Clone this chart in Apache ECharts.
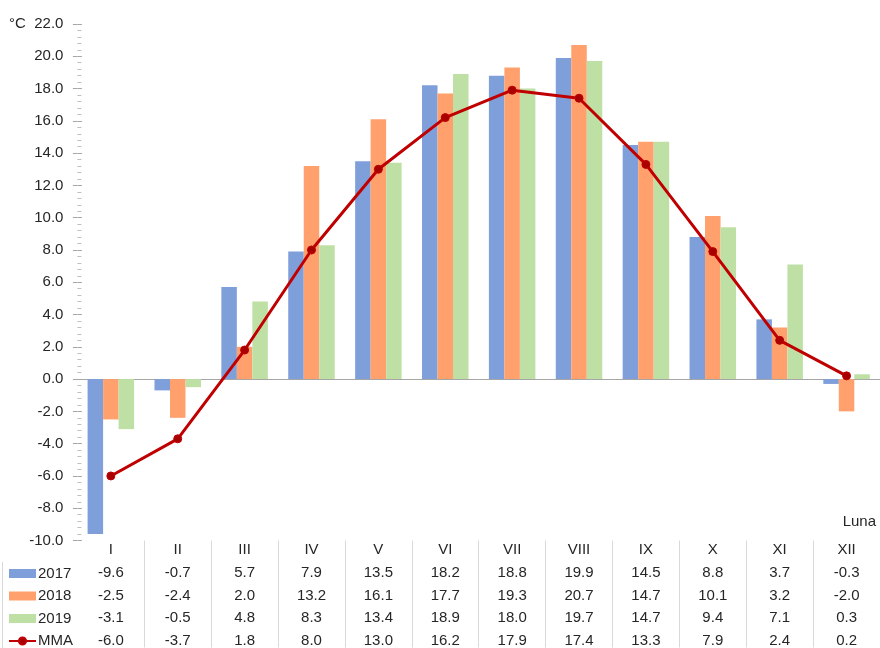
<!DOCTYPE html>
<html>
<head>
<meta charset="utf-8">
<script src="https://cdn.jsdelivr.net/npm/echarts@6/dist/echarts.min.js"></script>
<style>
  html, body { margin: 0; padding: 0; background: #fff; }
  #chart { width: 880px; height: 648px; }
</style>
</head>
<body>
<div id="chart"></div>
<script>
// Monthly mean air temperature, °C
const months = ['I', 'II', 'III', 'IV', 'V', 'VI', 'VII', 'VIII', 'IX', 'X', 'XI', 'XII'];
const t2017 = [-9.6, -0.7, 5.7, 7.9, 13.5, 18.2, 18.8, 19.9, 14.5, 8.8, 3.7, -0.3];
const t2018 = [-2.5, -2.4, 2.0, 13.2, 16.1, 17.7, 19.3, 20.7, 14.7, 10.1, 3.2, -2.0];
const t2019 = [-3.1, -0.5, 4.8, 8.3, 13.4, 18.9, 18.0, 19.7, 14.7, 9.4, 7.1, 0.3];
const mma   = [-6.0, -3.7, 1.8, 8.0, 13.0, 16.2, 17.9, 17.4, 13.3, 7.9, 2.4, 0.2];
const yMin = -10, yMax = 22, yStep = 2;

const FONT = '"Liberation Sans", Arial, sans-serif';
const TEXT = '#262626';
const fmt = v => Number(v).toFixed(1);

const chart = echarts.init(document.getElementById('chart'), null, { renderer: 'canvas' });

// one hidden-line category axis per table row, stacked under the plot
function rowAxis(values, margin) {
  return {
    type: 'category', data: months, position: 'bottom', gridIndex: 0,
    axisLine: { show: false, onZero: false },
    axisTick: { show: false },
    axisLabel: {
      interval: 0, margin: margin, color: TEXT, fontFamily: FONT, fontSize: 15,
      lineHeight: 15, formatter: (v, i) => fmt(values[i])
    }
  };
}

const option = {
  animation: false,
  backgroundColor: '#ffffff',
  grid: { left: 77.4, top: 24, width: 818.4, height: 516.8, containLabel: false },
  legend: {
    orient: 'vertical', left: 8, top: 566, padding: 0, height: 90,
    itemWidth: 27, itemHeight: 9, itemGap: 7.5,
    textStyle: { color: TEXT, fontFamily: FONT, fontSize: 15, lineHeight: 15, padding: [0, 0, 0, -3] },
    data: [
      { name: '2017', icon: 'rect' },
      { name: '2018', icon: 'rect' },
      { name: '2019', icon: 'rect' },
      { name: 'MMA' }
    ]
  },
  xAxis: [
    { // zero line
      type: 'category', data: months, gridIndex: 0, position: 'bottom',
      axisLine: { show: true, onZero: true, lineStyle: { color: '#A6A6A6', width: 1 } },
      axisTick: { show: false }, axisLabel: { show: false }
    },
    { // month names + column separators of the table
      type: 'category', data: months, gridIndex: 0, position: 'bottom',
      axisLine: { show: false, onZero: false },
      axisTick: { show: true, length: 107, interval: i => i > 0, lineStyle: { color: '#D9D9D9', width: 1 } },
      axisLabel: { interval: 0, margin: 2, color: TEXT, fontFamily: FONT, fontSize: 15, lineHeight: 15 }
    },
    rowAxis(t2017, 25),
    rowAxis(t2018, 47.5),
    rowAxis(t2019, 70),
    rowAxis(mma, 92.5)
  ],
  yAxis: [
    {
      type: 'value', min: yMin, max: yMax, interval: yStep, position: 'left',
      splitLine: { show: false },
      axisLine: { show: false },
      axisTick: { show: true, inside: false, length: 4.5, lineStyle: { color: '#A6A6A6' } },
      axisLabel: { margin: 14, color: TEXT, fontFamily: FONT, fontSize: 15, formatter: v => fmt(v) }
    },
    {
      type: 'value', min: yMin, max: yMax, interval: yStep, position: 'left',
      splitLine: { show: false },
      axisLine: { show: false },
      axisLabel: { show: false },
      axisTick: { show: true, inside: true, length: 4.5, lineStyle: { color: '#A6A6A6' } },
      minorTick: { show: true, splitNumber: 5, length: 4, lineStyle: { color: '#BFBFBF' } }
    }
  ],
  series: [
    { name: '2017', type: 'bar', data: t2017, barWidth: 15.5, barGap: '0%', itemStyle: { color: '#7F9FDB' } },
    { name: '2018', type: 'bar', data: t2018, barWidth: 15.5, barGap: '0%', itemStyle: { color: '#FFA06D' } },
    { name: '2019', type: 'bar', data: t2019, barWidth: 15.5, barGap: '0%', itemStyle: { color: '#BFE0A5' } },
    {
      name: 'MMA', type: 'line', data: mma, z: 5,
      symbol: 'circle', symbolSize: 8,
      lineStyle: { color: '#C00000', width: 3 },
      itemStyle: { color: '#A80000', borderColor: '#C00000', borderWidth: 1 }
    }
  ],
  graphic: [
    { type: 'text', left: 9, top: 16, style: { text: '°C', fill: TEXT, font: '15px ' + FONT } },
    { type: 'text', right: 4, top: 514, style: { text: 'Luna', fill: TEXT, font: '15px ' + FONT } },
    { type: 'line', shape: { x1: 2.5, y1: 562, x2: 2.5, y2: 648 }, style: { stroke: '#D9D9D9', lineWidth: 1 } }
  ]
};

chart.setOption(option);
</script>
</body>
</html>
